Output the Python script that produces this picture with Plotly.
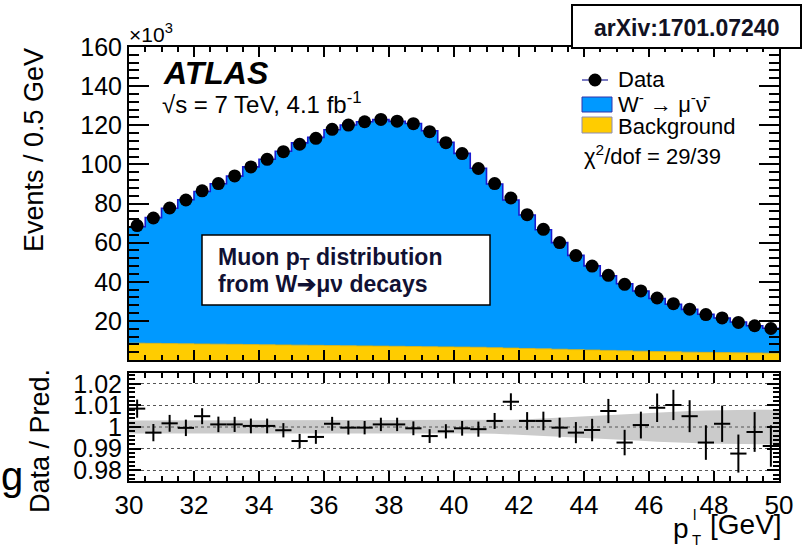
import plotly.graph_objects as go

# ---------------- data (events in units of 10^3) ----------------
bin_centers = [30.25, 30.75, 31.25, 31.75, 32.25, 32.75, 33.25, 33.75, 34.25, 34.75,
               35.25, 35.75, 36.25, 36.75, 37.25, 37.75, 38.25, 38.75, 39.25, 39.75,
               40.25, 40.75, 41.25, 41.75, 42.25, 42.75, 43.25, 43.75, 44.25, 44.75,
               45.25, 45.75, 46.25, 46.75, 47.25, 47.75, 48.25, 48.75, 49.25, 49.75]
half_bin = 0.25

data_events = [68.7, 72.6, 77.7, 81.8, 86.5, 90.2, 94.1, 98.7, 102.6, 106.5,
               110.3, 113.3, 117.9, 120.1, 121.8, 123.0, 122.1, 120.8, 116.7, 111.1,
               105.5, 97.9, 90.2, 82.8, 74.3, 66.8, 60.0, 53.4, 48.0, 43.3,
               38.7, 35.3, 31.7, 28.8, 26.0, 23.2, 21.5, 19.2, 17.5, 16.1]

signal_events = [59.5, 64.3, 69.2, 73.6, 77.9, 82.0, 86.0, 90.8, 94.8, 99.0,
                 103.4, 106.3, 110.3, 112.8, 114.6, 115.8, 115.0, 114.0, 110.4, 104.6,
                 99.0, 91.5, 83.7, 75.7, 68.2, 60.9, 54.5, 48.2, 43.0, 38.1,
                 34.3, 30.8, 27.1, 24.3, 21.9, 19.5, 17.7, 15.7, 13.9, 12.7]

background_events = [8.6, 8.5, 8.4, 8.3, 8.2, 8.1, 8.0, 7.9, 7.8, 7.7,
                     7.6, 7.5, 7.4, 7.3, 7.2, 7.1, 7.0, 6.9, 6.8, 6.7,
                     6.6, 6.5, 6.3, 6.1, 5.9, 5.7, 5.5, 5.3, 5.1, 4.9,
                     4.7, 4.5, 4.3, 4.2, 4.0, 3.9, 3.8, 3.7, 3.6, 3.5]

ratio = [1.0085, 0.9974, 1.0017, 0.9996, 1.0050, 1.0012, 1.0012, 1.0005, 1.0005, 0.9985,
         0.9935, 0.9954, 1.0015, 0.9997, 0.9997, 1.0012, 1.0012, 0.9994, 0.9958, 0.9980,
         0.9994, 0.9990, 1.0028, 1.0117, 1.0028, 1.0028, 0.9997, 0.9974, 0.9986, 1.0074,
         0.9928, 1.0009, 1.0089, 1.0102, 1.0050, 0.9928, 1.0015, 0.9877, 0.9977, 0.9912]

ratio_err = [0.0042, 0.0040, 0.0039, 0.0038, 0.0037, 0.0036, 0.0035, 0.0034, 0.0034, 0.0033,
             0.0033, 0.0032, 0.0032, 0.0032, 0.0031, 0.0031, 0.0031, 0.0032, 0.0032, 0.0033,
             0.0034, 0.0035, 0.0037, 0.0039, 0.0041, 0.0043, 0.0046, 0.0049, 0.0052, 0.0056,
             0.0059, 0.0062, 0.0066, 0.0070, 0.0074, 0.0080, 0.0084, 0.0088, 0.0092, 0.0096]

syst_band = [0.0030, 0.0030, 0.0030, 0.0030, 0.0030, 0.0030, 0.0030, 0.0030, 0.0030, 0.0030,
             0.0030, 0.0030, 0.0030, 0.0030, 0.0030, 0.0030, 0.0030, 0.0030, 0.0030, 0.0030,
             0.0030, 0.0030, 0.0031, 0.0033, 0.0036, 0.0040, 0.0044, 0.0048, 0.0052, 0.0056,
             0.0060, 0.0064, 0.0068, 0.0071, 0.0074, 0.0076, 0.0078, 0.0079, 0.0080, 0.0080]

x_ticks = [30, 32, 34, 36, 38, 40, 42, 44, 46, 48, 50]
main_y_ticks = [20, 40, 60, 80, 100, 120, 140, 160]
ratio_ticks = [0.98, 0.99, 1.0, 1.01, 1.02]
ratio_tick_text = ["0.98", "0.99", "1", "1.01", "1.02"]

# ---------------- geometry helpers ----------------
W, H = 808, 550
L, R, T, B = 129, 29, 47, 69
PW, PH = W - L - R, H - T - B


def px(x):
    return (x - L) / PW


def py(y):
    return (H - B - y) / PH


FONT = "Liberation Sans, Arial, Helvetica, sans-serif"
BLUE = "#0099ff"
YELLOW = "#ffcc00"

# step-histogram edges
edges = [c - half_bin for c in bin_centers] + [bin_centers[-1] + half_bin]
bkg_steps = background_events + [background_events[-1]]
sig_steps = signal_events + [signal_events[-1]]

fig = go.Figure()

# ---- main panel ----
fig.add_trace(go.Scatter(x=edges, y=bkg_steps, mode="lines", stackgroup="mc",
                         line=dict(shape="hv", color="#e0b000", width=0.8),
                         fillcolor=YELLOW, xaxis="x2", yaxis="y2", showlegend=False,
                         hoverinfo="skip"))
fig.add_trace(go.Scatter(x=edges, y=sig_steps, mode="lines", stackgroup="mc",
                         line=dict(shape="hv", color="#1a1ad0", width=1.6),
                         fillcolor=BLUE, xaxis="x2", yaxis="y2", showlegend=False,
                         hoverinfo="skip"))
fig.add_trace(go.Scatter(x=bin_centers, y=data_events, mode="markers",
                         marker=dict(color="black", size=13),
                         xaxis="x2", yaxis="y2", showlegend=False))

# ---- ratio panel ----
band_x = [30.0] + bin_centers + [50.0]
band_b = [syst_band[0]] + syst_band + [syst_band[-1]]
poly_x = band_x + band_x[::-1]
poly_y = [1 + b for b in band_b] + [1 - b for b in band_b[::-1]]
fig.add_trace(go.Scatter(x=poly_x, y=poly_y, mode="lines", fill="toself",
                         fillcolor="#cbcbcb", line=dict(width=0),
                         xaxis="x", yaxis="y", showlegend=False, hoverinfo="skip"))
fig.add_trace(go.Scatter(x=[30, 50], y=[1, 1], mode="lines",
                         line=dict(color="#555555", width=1, dash="dot"),
                         xaxis="x", yaxis="y", showlegend=False, hoverinfo="skip"))
fig.add_trace(go.Scatter(x=bin_centers, y=ratio, mode="markers",
                         marker=dict(color="black", size=2),
                         error_y=dict(type="data", array=ratio_err, color="black",
                                      thickness=2, width=0),
                         error_x=dict(type="constant", value=half_bin, color="black",
                                      thickness=2, width=0),
                         xaxis="x", yaxis="y", showlegend=False))

axis_common = dict(showline=True, linecolor="black", linewidth=2, mirror="ticks",
                   ticks="inside", tickcolor="black", tickwidth=1.5, zeroline=False)

fig.update_layout(
    width=W, height=H,
    margin=dict(l=L, r=R, t=T, b=B),
    paper_bgcolor="white", plot_bgcolor="white",
    font=dict(family=FONT, color="black"),
    showlegend=False,
    xaxis=dict(domain=[0, 1], anchor="y", range=[30, 50], tickvals=x_ticks,
               ticklen=10, minor=dict(tickmode="linear", tick0=30, dtick=0.5,
                                      ticklen=5, ticks="inside", tickcolor="black"),
               tickfont=dict(size=26), showgrid=False, **axis_common),
    xaxis2=dict(domain=[0, 1], anchor="y2", matches="x", range=[30, 50],
                tickvals=x_ticks, showticklabels=False, ticklen=10,
                minor=dict(tickmode="linear", tick0=30, dtick=0.5, ticklen=5,
                           ticks="inside", tickcolor="black"),
                showgrid=False, **axis_common),
    yaxis=dict(domain=[0, py(373)], anchor="x", range=[0.975, 1.025],
               tickvals=ratio_ticks, ticktext=ratio_tick_text, ticklen=12,
               minor=dict(tickmode="linear", tick0=0.98, dtick=0.002, ticklen=6,
                          ticks="inside", tickcolor="black"),
               showgrid=True, gridcolor="#555555", griddash="dot", gridwidth=1,
               tickfont=dict(size=25), **axis_common),
    yaxis2=dict(domain=[py(360), 1], anchor="x2", range=[0, 160],
                tickvals=main_y_ticks, ticklen=20,
                minor=dict(tickmode="linear", tick0=0, dtick=4, ticklen=10,
                           ticks="inside", tickcolor="black"),
                showgrid=False, tickfont=dict(size=25), **axis_common),
)

shapes = []
ann = []


def text(x, y, s, size, xanchor="left", yanchor="middle", angle=0, color="black"):
    ann.append(dict(x=px(x), y=py(y), xref="paper", yref="paper", text=s,
                    showarrow=False, xanchor=xanchor, yanchor=yanchor,
                    textangle=angle, font=dict(size=size, color=color, family=FONT)))


# axis titles
text(34, 150, "Events / 0.5 GeV", 27, "center", "middle", -90)
text(40, 441, "Data / Pred.", 27, "center", "middle", -90)
text(691, 528, "p", 28, "right", "middle")
text(691, 514, "l", 15, "left", "middle")
text(690, 539, "T", 15, "left", "middle")
text(784, 524, "[GeV]", 28, "right", "middle")
text(127, 33, "×10<sup>3</sup>", 21, "left", "middle")
text(12, 476, "g", 40, "center", "middle")

# ATLAS label
text(161, 73, "<b><i>ATLAS</i></b>", 32)
text(160, 103, "√s = 7 TeV, 4.1 fb<sup>-1</sup>", 24)

# legend
shapes.append(dict(type="line", xref="paper", yref="paper", x0=px(582), x1=px(608),
                   y0=py(80), y1=py(80), line=dict(color="#5050b0", width=1.5)))
shapes.append(dict(type="circle", xref="paper", yref="paper", x0=px(588.5), x1=px(601.5),
                   y0=py(86.5), y1=py(73.5), fillcolor="black", line=dict(width=0)))
shapes.append(dict(type="rect", xref="paper", yref="paper", x0=px(582), x1=px(612),
                   y0=py(112), y1=py(97), fillcolor=BLUE, line=dict(color="#3333aa", width=1)))
shapes.append(dict(type="rect", xref="paper", yref="paper", x0=px(582), x1=px(612),
                   y0=py(133), y1=py(117), fillcolor=YELLOW, line=dict(color="#8c8cb4", width=1)))
text(616, 80, "Data", 22)
text(616, 103, "W<sup>-</sup> → μ<sup>-</sup>ν̄", 22)
text(616, 127, "Background", 22)
text(582, 155, "χ<sup>2</sup>/dof = 29/39", 22)

# arXiv box
shapes.append(dict(type="rect", xref="paper", yref="paper", x0=px(572), x1=px(801),
                   y0=py(48), y1=py(5), fillcolor="white", line=dict(color="black", width=2),
                   layer="above"))
text(686.5, 28, "<b>arXiv:1701.07240</b>", 23, "center", "middle", color="#111122")

# description box
shapes.append(dict(type="rect", xref="paper", yref="paper", x0=px(202), x1=px(490),
                   y0=py(305), y1=py(235), fillcolor="white", line=dict(color="black", width=1.5),
                   layer="above"))
text(216, 258, "<b>Muon p<sub>T</sub> distribution</b>", 23, color="#111133")
text(216, 284, "<b>from W➔μν decays</b>", 23, color="#111133")

fig.update_layout(shapes=shapes, annotations=ann)
fig.write_html("out.html", config={"displayModeBar": False},
               post_script="document.body.style.margin='0px';")
